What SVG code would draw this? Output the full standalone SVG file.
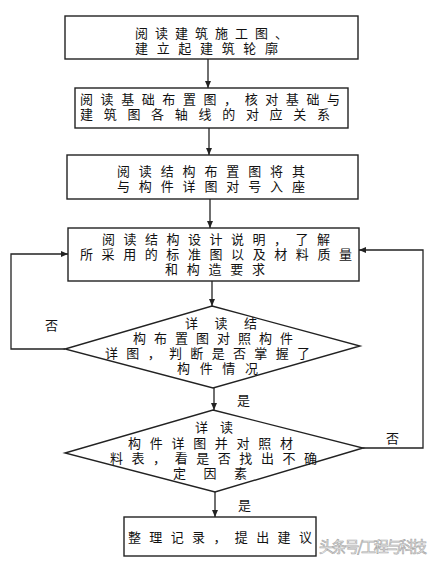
<svg xmlns="http://www.w3.org/2000/svg" width="439" height="566" viewBox="0 0 439 566">
<style>
.b{fill:#fff;stroke:#222;stroke-width:1.4}
.t{font-family:"Noto Sans CJK SC","Liberation Sans",sans-serif;font-size:13px;fill:#111}
.c{fill:none;stroke:#222;stroke-width:1.3}
.wm{font-family:"Noto Sans CJK SC",sans-serif;font-size:15px;fill:#fff;stroke:#aaa;stroke-width:0.7}
</style>
<defs>
<marker id="ah" markerWidth="8" markerHeight="8" refX="7" refY="4" orient="auto" markerUnits="userSpaceOnUse">
<path d="M0,1 L7,4 L0,7 Z" fill="#222"/>
</marker>
</defs>
<rect width="439" height="566" fill="#fff"/>
<g id="connectors">
<line class="c" x1="208" y1="59" x2="208" y2="88" marker-end="url(#ah)"/>
<line class="c" x1="209" y1="128" x2="209" y2="155" marker-end="url(#ah)"/>
<line class="c" x1="210" y1="199" x2="210" y2="228" marker-end="url(#ah)"/>
<line class="c" x1="212" y1="281" x2="212" y2="306" marker-end="url(#ah)"/>
<line class="c" x1="214" y1="388" x2="214" y2="410" marker-end="url(#ah)"/>
<line class="c" x1="215" y1="492" x2="215" y2="517" marker-end="url(#ah)"/>
<polyline class="c" points="65,349 11,349 11,254 68,254" marker-end="url(#ah)"/>
<polyline class="c" points="363,448 423,448 423,250 359,250" marker-end="url(#ah)"/>
<text class="t" x="45" y="330">否</text>
<text class="t" x="386" y="443">否</text>
<text class="t" x="237" y="405">是</text>
<text class="t" x="238" y="510">是</text>
</g>
<g id="n1">
<rect class="b" x="65" y="16" width="293" height="43"/>
<text class="t"><tspan x="135" y="38" textLength="153" lengthAdjust="spacing">阅读建筑施工图、</tspan><tspan x="135" y="53" textLength="143" lengthAdjust="spacing">建立起建筑轮廓</tspan></text>
</g>
<g id="n2">
<rect class="b" x="75" y="88" width="273" height="40"/>
<text class="t"><tspan x="80" y="104" textLength="260" lengthAdjust="spacing">阅读基础布置图，核对基础与</tspan><tspan x="80" y="119" textLength="250" lengthAdjust="spacing">建筑图各轴线的对应关系</tspan></text>
</g>
<g id="n3">
<rect class="b" x="67" y="155" width="291" height="44"/>
<text class="t"><tspan x="117" y="176" textLength="188" lengthAdjust="spacing">阅读结构布置图将其</tspan><tspan x="117" y="191" textLength="188" lengthAdjust="spacing">与构件详图对号入座</tspan></text>
</g>
<g id="n4">
<rect class="b" x="68" y="228" width="291" height="53"/>
<text class="t"><tspan x="102" y="244" textLength="228" lengthAdjust="spacing">阅读结构设计说明，了解</tspan><tspan x="80" y="259" textLength="272" lengthAdjust="spacing">所采用的标准图以及材料质量</tspan><tspan x="165" y="274" textLength="100" lengthAdjust="spacing">和构造要求</tspan></text>
</g>
<g id="d1">
<polygon class="b" points="212,306 360,346 213,388 65,349"/>
<text class="t"><tspan x="185" y="328" textLength="72" lengthAdjust="spacing">详读结</tspan><tspan x="133" y="343" textLength="160" lengthAdjust="spacing">构布置图对照构件</tspan><tspan x="105" y="358" textLength="205" lengthAdjust="spacing">详图，判断是否掌握了</tspan><tspan x="177" y="373" textLength="81" lengthAdjust="spacing">构件情况</tspan></text>
</g>
<g id="d2">
<polygon class="b" points="213,410 363,448 215,492 65,453"/>
<text class="t"><tspan x="195" y="432" textLength="38" lengthAdjust="spacing">详读</tspan><tspan x="128" y="448" textLength="165" lengthAdjust="spacing">构件详图并对照材</tspan><tspan x="110" y="463" textLength="207" lengthAdjust="spacing">料表，看是否找出不确</tspan><tspan x="173" y="478" textLength="74" lengthAdjust="spacing">定因素</tspan></text>
</g>
<g id="n5">
<rect class="b" x="124" y="517" width="192" height="39"/>
<text class="t" x="128" y="542" textLength="184" lengthAdjust="spacing">整理记录，提出建议</text>
</g>
<text class="wm" x="319" y="552" textLength="108" lengthAdjust="spacing">头条号/工程与科技</text>
</svg>
